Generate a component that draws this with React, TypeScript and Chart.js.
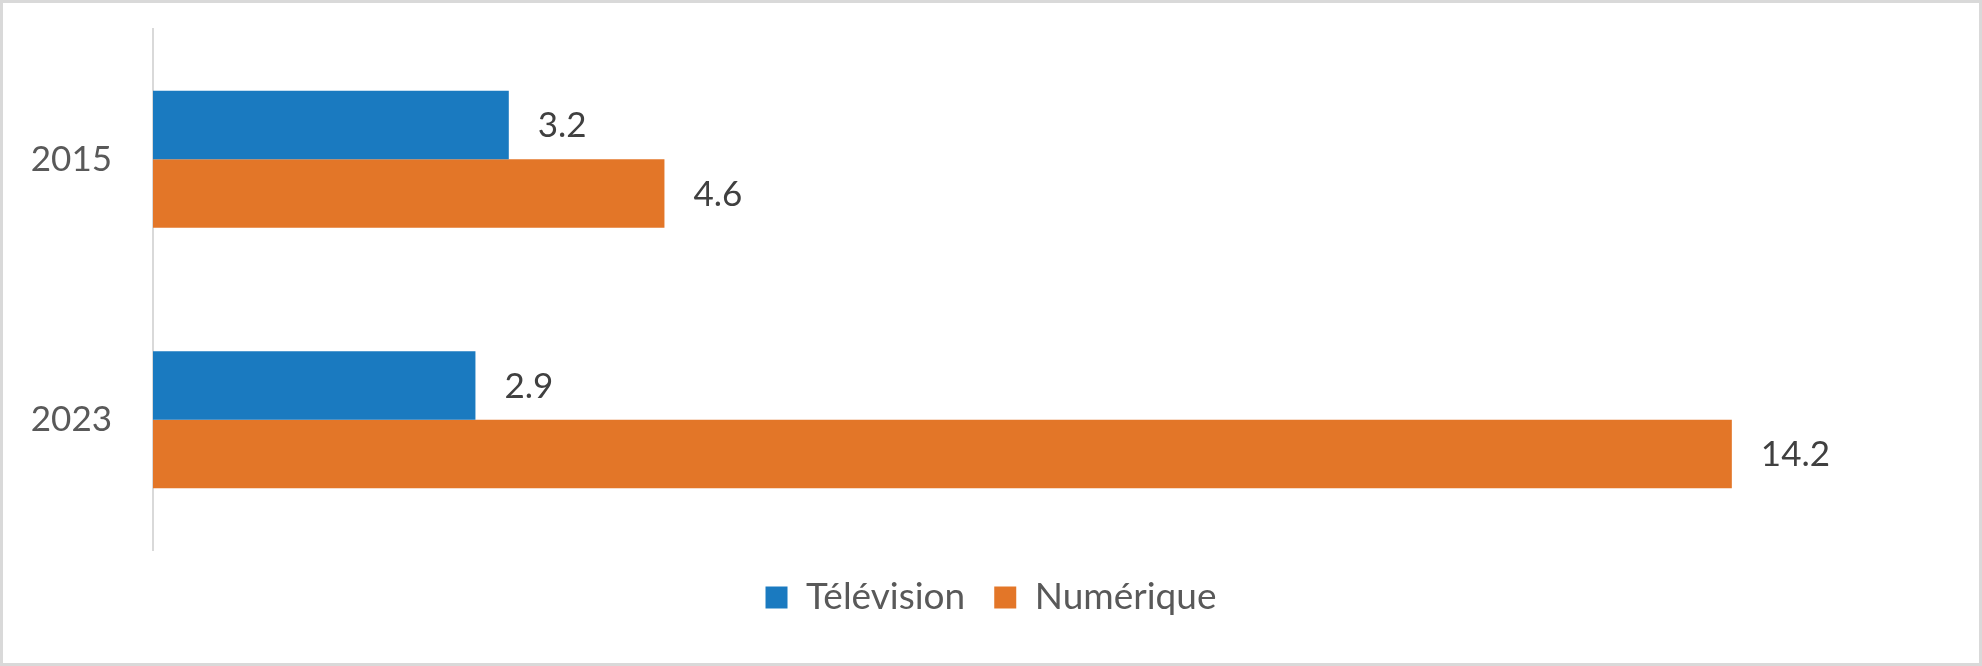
import React, { useEffect, useRef } from "react";
import { Chart, registerables } from "chart.js";

Chart.register(...registerables);

const categories = ["2015", "2023"];
const seriesNames = ["Télévision", "Numérique"];
const televisionValues = [3.2, 2.9];
const numeriqueValues = [4.6, 14.2];
const seriesColors = ["#1A7AC0", "#E37628"];

const FONT = "Lato, 'Open Sans', sans-serif";

const frameAndLabels = {
  id: "frameAndLabels",
  beforeDraw(chart: any) {
    const { ctx, width, height } = chart;
    ctx.save();
    ctx.fillStyle = "#ffffff";
    ctx.fillRect(0, 0, width, height);
    ctx.restore();
  },
  afterDatasetsDraw(chart: any) {
    const { ctx } = chart;
    ctx.save();
    ctx.font = `35px ${FONT}`;
    ctx.fillStyle = "#404040";
    ctx.textAlign = "left";
    ctx.textBaseline = "middle";
    chart.data.datasets.forEach((ds: any, di: number) => {
      const meta = chart.getDatasetMeta(di);
      meta.data.forEach((el: any, i: number) => {
        const v = ds.data[i];
        ctx.fillText(Number(v).toFixed(1), el.x + 29, el.y + 1);
      });
    });
    ctx.restore();
  },
  afterDraw(chart: any) {
    const { ctx, width, height } = chart;
    ctx.save();
    ctx.strokeStyle = "#D9D9D9";
    ctx.lineWidth = 3;
    ctx.strokeRect(1.5, 1.5, width - 3, height - 3);
    ctx.restore();
  },
};

export default function App() {
  const ref = useRef<HTMLCanvasElement | null>(null);

  useEffect(() => {
    if (!ref.current) return;
    const chart = new Chart(ref.current, {
      type: "bar",
      data: {
        labels: categories,
        datasets: [
          {
            label: seriesNames[0],
            data: televisionValues,
            backgroundColor: seriesColors[0],
            categoryPercentage: 0.525,
            barPercentage: 1,
          },
          {
            label: seriesNames[1],
            data: numeriqueValues,
            backgroundColor: seriesColors[1],
            categoryPercentage: 0.525,
            barPercentage: 1,
          },
        ],
      },
      options: {
        indexAxis: "y",
        responsive: false,
        animation: false,
        layout: { padding: { left: 0, right: 0, top: 29, bottom: 40 } },
        scales: {
          x: {
            display: false,
            min: 0,
            max: 16.45,
          },
          y: {
            grid: { display: false, drawTicks: false },
            border: { display: true, color: "#D9D9D9", width: 2 },
            ticks: {
              padding: 41,
              color: "#595959",
              font: { family: FONT, size: 35 },
            },
            afterFit: (scale: any) => {
              scale.width = 153;
              scale.paddingTop = 0;
              scale.paddingBottom = 0;
            },
          },
        },
        plugins: {
          legend: {
            display: true,
            position: "bottom",
            labels: {
              boxWidth: 22,
              boxHeight: 22,
              padding: 29,
              color: "#595959",
              font: { family: FONT, size: 37 },
            },
          },
          tooltip: { enabled: false },
        },
      },
      plugins: [frameAndLabels],
    });
    return () => chart.destroy();
  }, []);

  return (
    <div style={{ position: "fixed", left: 0, top: 0, width: 1982, height: 666 }}>
      <canvas ref={ref} width={1982} height={666} style={{ display: "block" }} />
    </div>
  );
}
